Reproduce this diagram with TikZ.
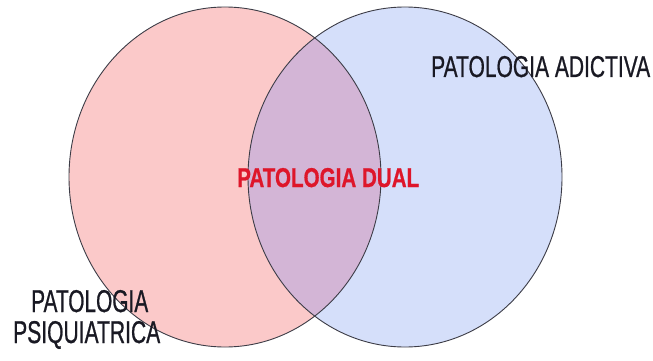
\documentclass[tikz,border=0pt]{standalone}
\usepackage{fontspec}
\setmainfont{Liberation Sans}
\newfontfamily\heavyfont[FakeBold=0.9]{Liberation Sans}
\newfontfamily\dualfont[BoldFont={Liberation Sans Bold},BoldFeatures={FakeBold=0.8}]{Liberation Sans}
\usepackage{graphicx}
\definecolor{leftfill}{RGB}{251,201,201}
\definecolor{rightfill}{RGB}{213,223,250}
\definecolor{bothfill}{RGB}{211,181,214}
\definecolor{edge}{RGB}{60,60,70}
\definecolor{dualred}{RGB}{222,22,42}
\definecolor{labelgray}{RGB}{25,25,35}
\tikzset{
  setedge/.style={draw=edge, line width=0.9pt},
  lbl/.style={inner sep=0pt, anchor=base west, text=labelgray, font=\heavyfont}
}
\begin{document}
\begin{tikzpicture}[x=1pt,y=-1pt]
\useasboundingbox (0,0) rectangle (653,361);
\fill[white] (0,0) rectangle (653,361);
\coordinate (cl) at (225,177);
\coordinate (cr) at (405,177);
\fill[leftfill] (cl) ellipse [x radius=156, y radius=170];
\fill[rightfill] (cr) ellipse [x radius=157, y radius=170];
\begin{scope}
  \clip (cl) ellipse [x radius=156, y radius=170];
  \fill[bothfill] (cr) ellipse [x radius=157, y radius=170];
\end{scope}
\draw[setedge] (cl) ellipse [x radius=156, y radius=170];
\draw[setedge] (cr) ellipse [x radius=157, y radius=170];
\node[lbl] (adic) at (431,77) {\resizebox{219pt}{21pt}{PATOLOGIA ADICTIVA}};
\node[lbl, text=dualred, font=\dualfont] (dual) at (237,187) {\resizebox{182pt}{19pt}{\bfseries PATOLOGIA DUAL}};
\node[lbl] (pat) at (31,312) {\resizebox{117pt}{22pt}{PATOLOGIA}};
\node[lbl] (psi) at (13,343) {\resizebox{147pt}{22pt}{PSIQUIATRICA}};
\end{tikzpicture}
\end{document}
